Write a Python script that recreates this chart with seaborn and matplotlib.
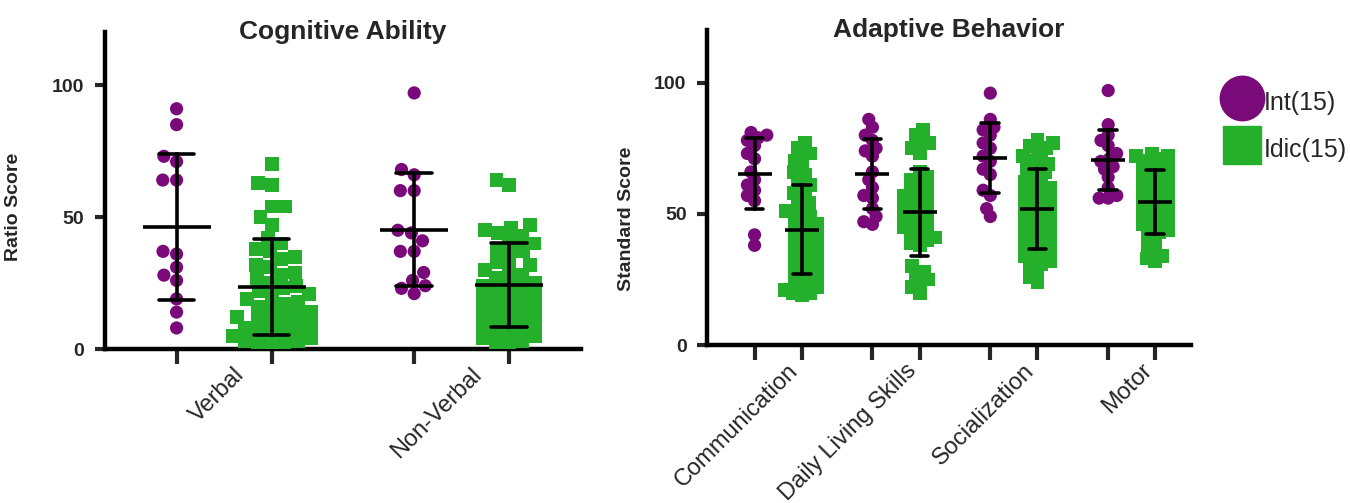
import warnings
warnings.simplefilter('ignore')

import numpy as np
import pandas as pd
import matplotlib
matplotlib.use('Agg')
import matplotlib.pyplot as plt
from matplotlib.lines import Line2D
from matplotlib.transforms import ScaledTranslation
import seaborn as sns

sns.set_style('white')
plt.rcParams['font.family'] = ['Liberation Sans', 'DejaVu Sans']

INT_COLOR = '#7a0a7a'
IDIC_COLOR = '#25b02c'
GROUPS = ['Int(15)', 'Idic(15)']

# Cognitive Ability (ratio score)
cog_domains = ['Verbal', 'Non-Verbal']
verbal_int = [91, 85, 73, 71, 64, 64, 37, 36, 31, 28, 26, 19, 14, 8]
verbal_idic = [70, 63, 62, 54, 54, 50, 47,
               42, 40, 38, 37, 35, 34, 32, 31, 29, 28, 27, 25, 24, 23, 22, 21,
               20, 19, 18, 17, 16, 15, 14, 13, 12, 12, 11, 10, 9, 8, 8, 7, 6,
               5, 5, 4, 3, 3, 2, 1, 0]
nonverbal_int = [97, 68, 66, 60, 60, 45, 44, 41, 37, 37, 29, 26, 24, 23, 21]
nonverbal_idic = [64, 62, 47, 46, 45, 44, 43, 41, 40, 38, 37, 36, 33, 32, 31, 30,
                  28, 27, 26, 25, 24, 23, 22, 21, 20, 19, 18, 17, 16, 15, 14,
                  13, 12, 11, 10, 9, 8, 7, 6, 5, 4, 3, 2, 1]

# Adaptive Behavior (standard score)
adapt_domains = ['Communication', 'Daily Living Skills', 'Socialization', 'Motor']
comm_int = [81, 80, 79, 78, 76, 73, 71, 66, 63, 61, 59, 57, 55, 42, 38]
comm_idic = [77, 75, 73, 72, 70, 68, 66, 65, 63, 61, 60, 58, 57, 55, 54,
             52, 51, 50, 49, 48, 46, 45, 44, 43, 42, 41, 40, 39, 38, 37, 36,
             35, 34, 33, 32, 31, 30, 29, 28, 27, 26, 25, 24, 23, 22, 21, 20,
             20, 19]
dls_int = [86, 83, 80, 78, 75, 74, 72, 66, 63, 60, 57, 56, 52, 49, 47, 46]
dls_idic = [82, 80, 77, 77, 75, 73,
            66, 64, 63, 62, 60, 59, 58, 57, 56, 55, 54, 53, 52, 51, 50, 49,
            48, 47, 46, 45, 44, 43, 42, 41, 40, 39, 38,
            30, 28, 27, 25, 24, 22, 20]
soc_int = [96, 86, 83, 82, 80, 77, 75, 72, 70, 67, 65, 59, 57, 52, 49]
soc_idic = [78, 77, 76, 75, 74, 72, 71, 70, 69, 68, 67, 66, 65, 63,
            62, 61, 60, 59, 58, 57, 56, 55, 54, 53, 52, 51, 50, 49, 48, 47,
            46, 45, 44, 43, 42, 41, 40, 39, 38, 37, 36, 35, 34, 33, 32, 31,
            30, 28, 26, 24]
motor_int = [97, 84, 80, 78, 76, 73, 71, 70, 68, 67, 64, 60, 57, 56, 56]
motor_idic = [73, 72, 72, 71, 70, 69, 68, 67, 66, 65, 64, 63, 62, 61, 60,
              59, 58, 57, 56, 55, 54, 53, 52, 51, 50, 49, 48, 47, 46, 45,
              44, 43, 42, 40, 38, 36, 34, 33, 32]


def long_table(domains, int_lists, idic_lists):
    rows = []
    for d, a, b in zip(domains, int_lists, idic_lists):
        rows += [(d, GROUPS[0], v) for v in a]
        rows += [(d, GROUPS[1], v) for v in b]
    return pd.DataFrame(rows, columns=['domain', 'group', 'score'])


cog = long_table(cog_domains, [verbal_int, nonverbal_int],
                 [verbal_idic, nonverbal_idic])
adapt = long_table(adapt_domains, [comm_int, dls_int, soc_int, motor_int],
                   [comm_idic, dls_idic, soc_idic, motor_idic])

palette = {GROUPS[0]: INT_COLOR, GROUPS[1]: IDIC_COLOR}
black = {g: 'black' for g in GROUPS}
MARKERS = {GROUPS[0]: ('o', 9.5), GROUPS[1]: ('s', 10.0)}

fig = plt.figure(figsize=(13.5, 5.03), dpi=100)
ax1 = fig.add_axes([0.078, 0.306, 0.352, 0.630])
ax2 = fig.add_axes([0.524, 0.314, 0.358, 0.626])

# swarm collections to enlarge once the swarm layout is done
swarm_sets = []


def draw_panel(ax, df, domains, title, ylabel, xlim, mean_len, label_xy, pack):
    for grp in GROUPS:
        marker, size = MARKERS[grp]
        n0 = len(ax.collections)
        # lay the swarm out with a smaller dot so the columns stay tight
        sns.swarmplot(data=df[df['group'] == grp], x='domain', y='score',
                      hue='group', hue_order=GROUPS, order=domains, dodge=True,
                      palette=palette, marker=marker, size=pack, linewidth=0,
                      legend=False, warn_thresh=1, ax=ax)
        swarm_sets.append((ax.collections[n0:], size))
    sns.pointplot(data=df, x='domain', y='score', hue='group', hue_order=GROUPS,
                  order=domains, dodge=0.4, errorbar='sd', capsize=0.15,
                  palette=black, markers='_', linestyles='none',
                  markersize=mean_len, markeredgewidth=2.6, zorder=10,
                  err_kws={'linewidth': 2.6, 'zorder': 10}, legend=False, ax=ax)

    ax.set_xlim(*xlim)
    ax.set_ylim(0, 120)
    ax.set_yticks([0, 50, 100])
    ax.set_yticklabels(['0', '50', '100'], fontsize=14, fontweight='bold')
    ax.tick_params(axis='y', length=7, width=3, pad=8, direction='out', left=True)

    n = len(domains)
    ax.set_xticks(range(n))
    ax.set_xticklabels(domains, rotation=45, ha='right', va='center',
                       rotation_mode='anchor', fontsize=17)
    ax.tick_params(axis='x', which='major', length=0, pad=16)
    ax.set_xticks([i + d for i in range(n) for d in (-0.2, 0.2)], minor=True)
    ax.tick_params(axis='x', which='minor', length=11, width=3,
                   direction='out', bottom=True)
    offset = ScaledTranslation(0.17, 0, fig.dpi_scale_trans)
    for lab in ax.get_xticklabels():
        lab.set_transform(lab.get_transform() + offset)

    ax.set_xlabel('')
    ax.set_ylabel(ylabel, fontsize=14, fontweight='bold')
    ax.yaxis.set_label_coords(*label_xy)
    ax.set_title(title, fontsize=19, fontweight='bold', y=1.0, va='center', pad=0)

    sns.despine(ax=ax)
    for side in ['left', 'bottom']:
        ax.spines[side].set_linewidth(3.2)
        ax.spines[side].set_color('black')


draw_panel(ax1, cog, cog_domains, 'Cognitive Ability', 'Ratio Score',
           (-0.5, 1.5), 49, (-0.175, 0.45), 9.5)
draw_panel(ax2, adapt, adapt_domains, 'Adaptive Behavior', 'Standard Score',
           (-0.6, 3.5), 24.5, (-0.15, 0.40), 6.2)

# run the swarm layout, then freeze it and show the full-size markers
fig.canvas.draw()
for colls, size in swarm_sets:
    for c in colls:
        if 'draw' in c.__dict__:
            del c.draw
        c.set_sizes([size ** 2])

handles = [Line2D([], [], marker='o', color=INT_COLOR, linestyle='none', markersize=32),
           Line2D([], [], marker='s', color=IDIC_COLOR, linestyle='none', markersize=27)]
fig.legend(handles, GROUPS, loc='upper left', bbox_to_anchor=(1219 / 1350, 1 - 86 / 503),
           frameon=False, fontsize=18, handlelength=1.8, handleheight=1.6,
           handletextpad=0.0, labelspacing=0.6, borderpad=0, borderaxespad=0)

fig.savefig('out.png', dpi=100)
